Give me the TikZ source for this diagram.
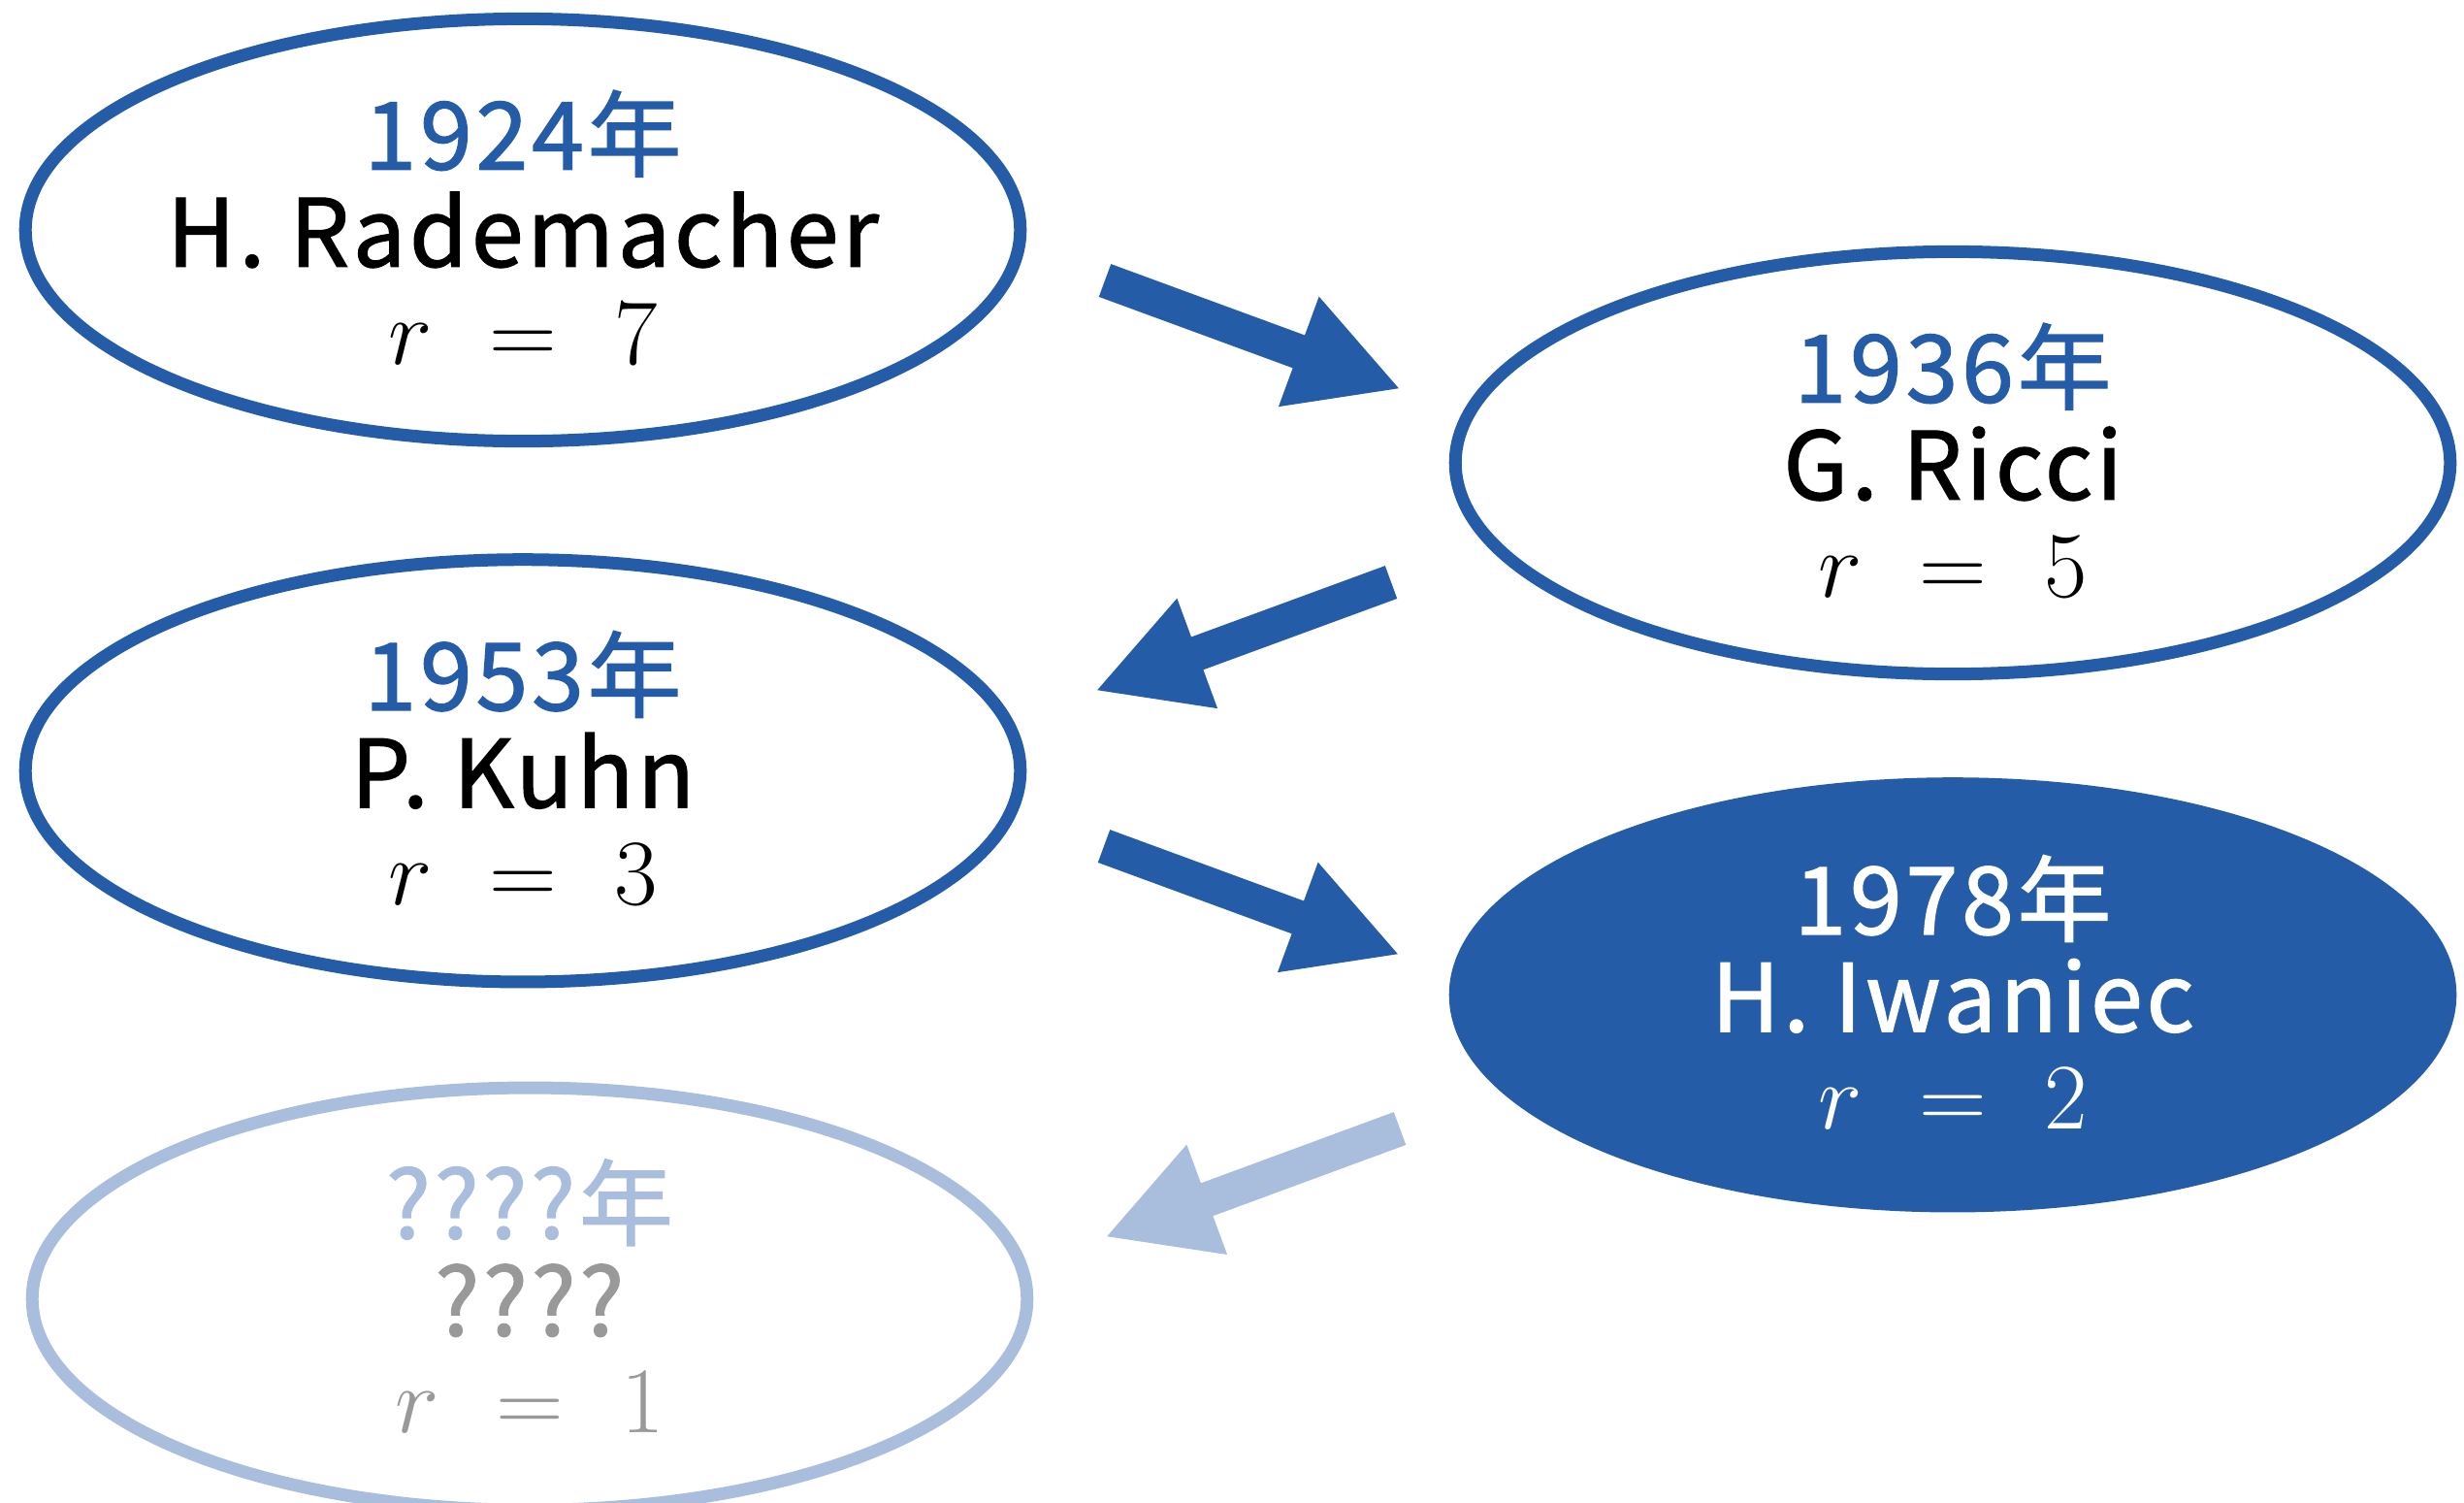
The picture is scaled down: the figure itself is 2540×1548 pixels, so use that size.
\RequirePackage{fix-cm}
\documentclass[tikz,border=0pt]{standalone}
\usepackage[no-math]{fontspec}
\setmainfont{Noto Sans CJK JP}[FakeBold=1.4, LetterSpace=4]
\usepackage{tikz}
\usetikzlibrary{shapes.geometric, arrows.meta, positioning}
\definecolor{eraBlue}{HTML}{255CA8}
\definecolor{eraPale}{HTML}{A8BEDC}
\definecolor{eraGray}{HTML}{999999}

\begin{document}
\begin{tikzpicture}[%
  x=0.01cm, y=-0.01cm,%
  era/.style={ellipse, draw=eraBlue, line width=0.13cm, fill=white, minimum width=10.25cm, minimum height=4.35cm, inner sep=0pt},%
  eratext/.style={align=center, inner sep=0pt, font=\fontsize{27.5}{28.5}\selectfont},%
  flow/.style={-{Triangle[length=1.12cm, width=1.12cm]}, line width=0.36cm, draw=eraBlue}%
]
  \useasboundingbox (0,0) rectangle (2540,1548);
  % left column
  \node[era] (rad) at (539,237) {};
  \node[era, below=1.09cm of rad] (kuhn) {};
  \node[era, draw=eraPale, below=0.96cm of kuhn, xshift=0.07cm] (unk) {};
  % right column
  \node[era] (ric) at (2013,477) {};
  \node[era, fill=eraBlue, below=1.0cm of ric] (iwa) {};
  % texts
  \node[eratext, yshift=0.03cm] (rad-t) at (rad) {{\color{eraBlue}1924年}\\H. Rademacher\\$r\mkern6mu=\mkern6mu7$};
  \node[eratext, yshift=0.03cm] (ric-t) at (ric) {{\color{eraBlue}1936年}\\G. Ricci\\$r\mkern6mu=\mkern6mu5$};
  \node[eratext, yshift=0.03cm] (kuhn-t) at (kuhn) {{\color{eraBlue}1953年}\\P. Kuhn\\$r\mkern6mu=\mkern6mu3$};
  \node[eratext, text=white, yshift=0.03cm] (iwa-t) at (iwa) {1978年\\H. Iwaniec\\$r\mkern6mu=\mkern6mu2$};
  \node[eratext, text=eraGray, yshift=0.03cm] (unk-t) at (unk) {{\color{eraPale}????年}\\????\\$r\mkern6mu=\mkern6mu1$};
  % arrows between the ellipses
  \coordinate (a1s) at (1139,289);
  \coordinate (a1e) at (1444,401);
  \coordinate (a2s) at (1434,600);
  \coordinate (a2e) at (1129,712);
  \coordinate (a3s) at (1138,872);
  \coordinate (a3e) at (1443,984);
  \coordinate (a4s) at (1443,1163);
  \coordinate (a4e) at (1139,1275);
  \draw[flow] (a1s) -- (a1e);
  \draw[flow] (a2s) -- (a2e);
  \draw[flow] (a3s) -- (a3e);
  \draw[flow, draw=eraPale] (a4s) -- (a4e);
\end{tikzpicture}
\end{document}
